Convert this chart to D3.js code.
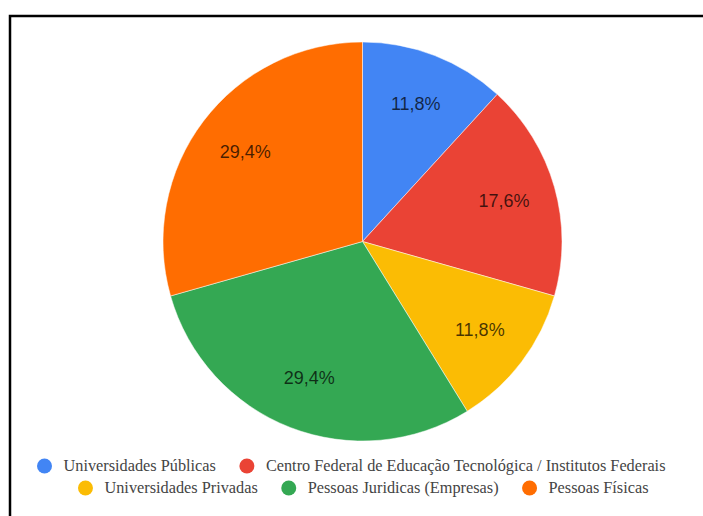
<!DOCTYPE html>
<html><head><meta charset="utf-8">
<script src="https://cdn.jsdelivr.net/npm/d3@7"></script>
<style>body{margin:0;background:#fff}svg{display:block}</style>
</head><body>
<svg id="c" width="703" height="516"></svg>
<script>
const categories = ["Universidades Públicas","Centro Federal de Educação Tecnológica / Institutos Federais","Universidades Privadas","Pessoas Juridicas (Empresas)","Pessoas Físicas"];
const values = [11.8, 17.6, 11.8, 29.4, 29.4];
const labels = ["11,8%","17,6%","11,8%","29,4%","29,4%"];
const colors = ["#4285F4","#EA4335","#FBBC04","#34A853","#FF6D01"];
const legendRows = [[0,1],[2,3,4]];

const svg = d3.select("#c");
svg.append("rect").attr("width",703).attr("height",516).attr("fill","#fff");
// frame (top and left edges visible)
svg.append("path").attr("d","M10,516 V16 H703").attr("fill","none").attr("stroke","#000").attr("stroke-width",2.5);

const cx = 362.5, cy = 241.5, r = 199.5;
const pie = d3.pie().sort(null).value(d=>d)(values);
const arc = d3.arc().innerRadius(0).outerRadius(r);
const g = svg.append("g").attr("transform",`translate(${cx},${cy})`);
g.selectAll("path").data(pie).enter().append("path")
  .attr("d",arc).attr("fill",(d,i)=>colors[i]).attr("stroke","#fff").attr("stroke-width",0.5);
const larc = d3.arc().innerRadius(147).outerRadius(147);
g.selectAll("text").data(pie).enter().append("text")
  .attr("transform",d=>`translate(${larc.centroid(d)})`)
  .attr("text-anchor","middle").attr("dy","0.3em")
  .attr("font-family","Arial, 'Liberation Sans', sans-serif").attr("font-size",18)
  .attr("fill","#000").attr("fill-opacity",0.72)
  .text((d,i)=>labels[i]);

const rowY = [466, 488];
const rowCenter = [351, 363];
legendRows.forEach((row,ri)=>{
  const lg = svg.append("g");
  let x = 0;
  row.forEach((idx,k)=>{
    const it = lg.append("g").attr("transform",`translate(${x},0)`);
    it.append("circle").attr("cx",8).attr("cy",0).attr("r",7.5).attr("fill",colors[idx]);
    const t = it.append("text").attr("x",27).attr("y",0).attr("dy","0.33em")
      .attr("font-family","'Liberation Serif','Times New Roman',serif").attr("font-size",16.3)
      .attr("fill","#444").text(categories[idx]);
    const w = t.node().getComputedTextLength();
    x += 27 + w + 23;
  });
  const total = x - 23;
  lg.attr("transform",`translate(${rowCenter[ri]-total/2},${rowY[ri]})`);
});
</script>
</body></html>
